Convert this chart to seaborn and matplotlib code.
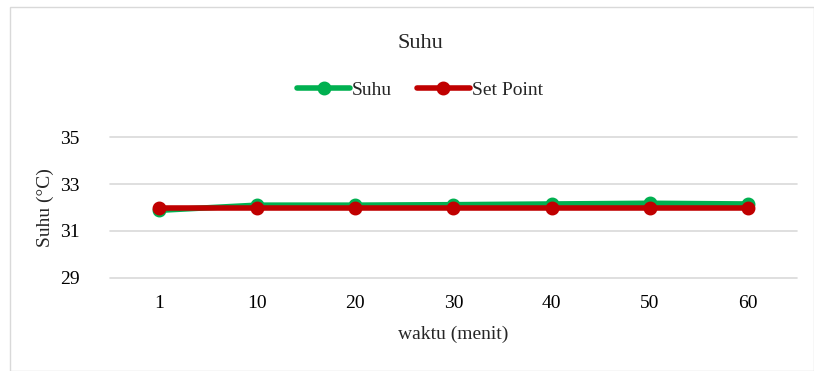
import pandas as pd
import matplotlib.pyplot as plt
import seaborn as sns
from matplotlib.patches import Rectangle

waktu = ["1", "10", "20", "30", "40", "50", "60"]
suhu = [31.88, 32.10, 32.10, 32.12, 32.15, 32.18, 32.15]
set_point = [32.0, 32.0, 32.0, 32.0, 32.0, 32.0, 32.0]
y_ticks = [29, 31, 33, 35]

df = pd.concat([
    pd.DataFrame({"waktu": waktu, "nilai": suhu, "seri": "Suhu"}),
    pd.DataFrame({"waktu": waktu, "nilai": set_point, "seri": "Set Point"}),
], ignore_index=True)

sns.set_theme(style="white")
plt.rcParams["font.family"] = ["Liberation Serif", "DejaVu Serif"]

fig = plt.figure(figsize=(8.14, 3.71), dpi=100)
fig.patches.append(Rectangle((10 / 814, 0), 1 - 10 / 814, 1 - 7 / 371,
                             transform=fig.transFigure, fill=False,
                             edgecolor="#d9d9d9", linewidth=1))
ax = fig.add_axes([0.135, 0.2507, 0.844, 0.38])

sns.pointplot(data=df, x="waktu", y="nilai", hue="seri", order=waktu,
              palette={"Suhu": "#00b050", "Set Point": "#c00000"},
              markers="o", linestyles="-", linewidth=4, markersize=7,
              errorbar=None, ax=ax)

ax.set_ylim(29, 35)
ax.set_yticks(y_ticks)
ax.set_xlim(-0.5, len(waktu) - 0.5)
ax.grid(axis="y", color="#d9d9d9", linewidth=1.2)
for gl in ax.get_ygridlines():
    gl.set_clip_on(False)
ax.set_axisbelow(True)
sns.despine(ax=ax, left=True, bottom=True, top=True, right=True)
ax.tick_params(axis="x", length=0, labelsize=14, colors="#000000", pad=12)
ax.tick_params(axis="y", length=0, labelsize=14, colors="#000000", pad=22)
ax.set_xlabel("waktu (menit)", fontsize=14, labelpad=10)
ax.set_ylabel("Suhu (°C)", fontsize=14, labelpad=4)

handles, labels = ax.get_legend_handles_labels()
ax.legend(handles, labels, loc="center", bbox_to_anchor=(0.516, 0.757),
          bbox_transform=fig.transFigure, ncol=2, frameon=False,
          fontsize=14, handlelength=2.7, handletextpad=0.1, columnspacing=1.3)

fig.text(0.516, 0.884, "Suhu", ha="center", va="center", fontsize=16)

plt.savefig("out.png", dpi=100)
